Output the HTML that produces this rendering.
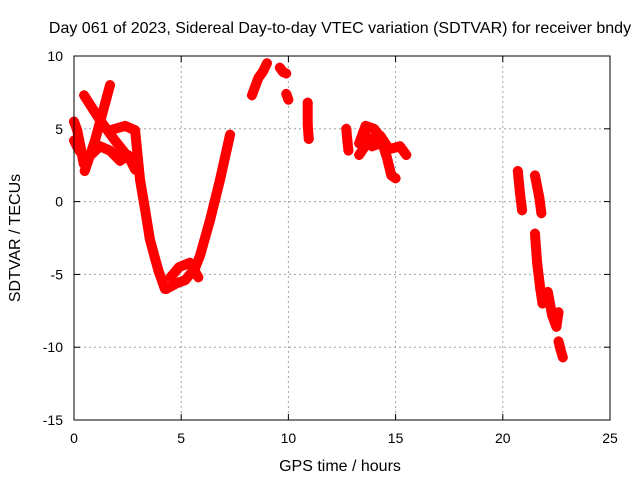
<!DOCTYPE html>
<html><head><meta charset="utf-8"><style>
body{margin:0;background:#fff;font-family:"Liberation Sans",sans-serif}
svg text{font-family:"Liberation Sans",sans-serif;font-size:14px;fill:#000}
svg text.big{font-size:16px}
</style></head><body>
<svg id="chart" width="640" height="480">
<text class="big" x="340" y="33" text-anchor="middle">Day 061 of 2023, Sidereal Day-to-day VTEC variation (SDTVAR) for receiver bndy</text>
<text class="big" x="340" y="471" text-anchor="middle">GPS time / hours</text>
<text class="big" transform="translate(20,238) rotate(-90)" text-anchor="middle">SDTVAR / TECUs</text>
<g id="grid"></g><g id="ticks"></g><g id="marks"></g>
<rect x="74" y="56" width="536" height="364" fill="none" stroke="#000" stroke-width="1"/>
</svg>
<script>
const xTicks=[0,5,10,15,20,25];
const yTicks=[10,5,0,-5,-10,-15];
// series: hours and SDTVAR values
const s1h=[0.0,0.15,0.3,0.45];            const s1v=[5.5,4.9,3.8,2.6];
const s2h=[0.0,0.2,0.4];                  const s2v=[4.2,3.6,3.2];
const s3h=[0.5,0.98,1.35,1.68];           const s3v=[2.1,4.2,6.2,8.0];
const s4h=[0.47,1.21,1.91,2.61,2.85];     const s4v=[7.3,5.6,4.2,2.9,2.2];
const s5h=[0.5,1.21,1.68,2.15,2.52,2.85]; const s5v=[2.8,3.8,3.5,2.8,3.2,2.5];
const s6h=[1.68,2.38,2.85,3.08,3.31,3.54,3.78,3.95,4.24]; const s6v=[4.9,5.2,4.9,1.5,-0.5,-2.6,-3.9,-4.8,-6.0];
const s7h=[4.3,4.8,5.18,5.64,5.88,6.34,6.81,7.28]; const s7v=[-6.0,-5.6,-5.4,-4.6,-3.7,-1.3,1.5,4.6];
const s8h=[4.5,4.9,5.4,5.8];              const s8v=[-5.2,-4.5,-4.2,-5.2];
const s9h=[8.3,8.45,8.6,8.8,9.0];         const s9v=[7.3,7.9,8.5,8.9,9.5];
const s10h=[9.6,9.75,9.9];                const s10v=[9.2,8.9,8.8];
const s11h=[9.9,10.0];                    const s11v=[7.4,7.0];
const s12h=[10.9,10.9,10.95];             const s12v=[6.8,5.3,4.3];
const s13h=[12.7,12.75,12.8];             const s13v=[5.0,4.2,3.5];
const s14h=[13.3,13.6,14.0,14.3,14.6,14.8,15.0]; const s14v=[4.0,5.2,5.0,4.4,3.0,1.8,1.6];
const s15h=[13.3,13.8,14.3,14.7,15.2,15.5]; const s15v=[3.2,4.3,4.5,3.6,3.8,3.2];
const s16h=[13.5,13.9,14.3];              const s16v=[4.8,3.8,4.0];
const s17h=[20.7,20.8,20.9];              const s17v=[2.1,0.6,-0.6];
const s18h=[21.5,21.7,21.8];              const s18v=[1.8,0.3,-0.8];
const s19h=[21.5,21.6,21.75,21.85];       const s19v=[-2.2,-4.2,-6.0,-7.0];
const s20h=[22.1,22.3,22.5,22.6];         const s20v=[-6.2,-7.8,-8.6,-7.6];
const s21h=[22.6,22.7,22.8];              const s21v=[-9.6,-10.2,-10.7];
const lineSeries=[[s1h,s1v],[s2h,s2v],[s3h,s3v],[s4h,s4v],[s5h,s5v],[s6h,s6v],[s7h,s7v],[s8h,s8v],[s9h,s9v],[s10h,s10v],[s11h,s11v],[s12h,s12v],[s13h,s13v],[s14h,s14v],[s15h,s15v],[s16h,s16v],[s17h,s17v],[s18h,s18v],[s19h,s19v],[s20h,s20v],[s21h,s21v]];
const sx=h=>74+h*536/25, sy=v=>56+(10-v)*364/25;
const NS='http://www.w3.org/2000/svg';
const grid=document.getElementById('grid'),ticks=document.getElementById('ticks'),marks=document.getElementById('marks');
function mk(tag,attrs,parent){const e=document.createElementNS(NS,tag);for(const k in attrs)e.setAttribute(k,attrs[k]);parent.appendChild(e);return e;}
xTicks.forEach(t=>{const x=sx(t);
 if(t>0&&t<25){const g=mk('line',{x1:x,x2:x,y1:56,y2:420,stroke:'#a0a0a0','stroke-dasharray':'2,3'},grid);
 
 }
 mk('line',{x1:x,x2:x,y1:420,y2:414,stroke:'#000'},ticks);mk('line',{x1:x,x2:x,y1:56,y2:62,stroke:'#000'},ticks);
 const l=mk('text',{x:x,y:443,'text-anchor':'middle'},ticks);l.textContent=t;
 
 });
yTicks.forEach(t=>{const y=sy(t);
 if(t>-15&&t<10){const g=mk('line',{x1:74,x2:610,y1:y,y2:y,stroke:'#a0a0a0','stroke-dasharray':'2,3'},grid);
 
 }
 mk('line',{x1:74,x2:80,y1:y,y2:y,stroke:'#000'},ticks);mk('line',{x1:610,x2:604,y1:y,y2:y,stroke:'#000'},ticks);
 const l=mk('text',{x:63,y:y+5,'text-anchor':'end'},ticks);l.textContent=t;
 
 });
function plus(h,v){const x=sx(h),y=sy(v);
 const p=mk('path',{d:`M${x-5} ${y}h10M${x} ${y-5}v10`,stroke:'#f00','stroke-width':1.5,fill:'none'},marks);
 
 }
lineSeries.forEach(([hs,vs])=>{
 const pl=mk('polyline',{points:hs.map((h,i)=>sx(h)+','+sy(vs[i])).join(' '),stroke:'#f00','stroke-width':10,fill:'none','stroke-linejoin':'round','stroke-linecap':'round'},marks);
 
 
 hs.forEach((h,i)=>plus(h,vs[i]));});
</script>
</body></html>
